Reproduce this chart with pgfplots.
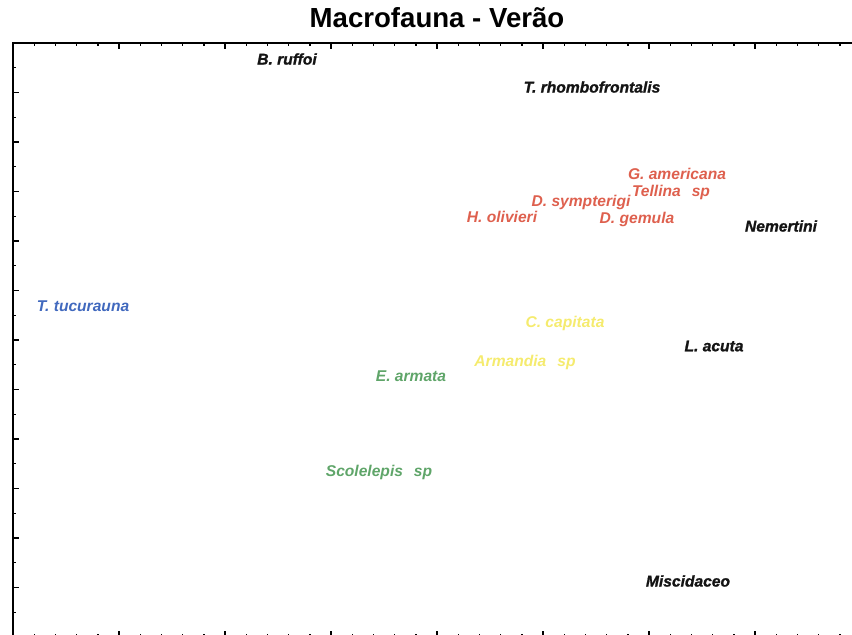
\documentclass[border=0pt]{standalone}
\usepackage{pgfplots}
\pgfplotsset{compat=1.18}
\usepackage{fontspec}
\setmainfont{Liberation Sans}
\definecolor{cred}{RGB}{222,96,78}
\definecolor{cgreen}{RGB}{95,165,105}
\definecolor{cyellow}{RGB}{245,235,110}
\definecolor{cblue}{RGB}{65,105,190}
\definecolor{cblack}{RGB}{20,20,20}
\begin{document}
\begin{tikzpicture}
\begin{axis}[
  scale only axis, width=424pt, height=297pt,
  xmin=13, xmax=861, ymin=43, ymax=637, y dir=reverse,
  xtick={13,119,...,861}, minor x tick num=4,
  ytick={43,92.5,...,637}, minor y tick num=1,
  xticklabels={}, yticklabels={},
  tick align=inside, major tick length=3pt, minor tick length=1.6pt,
  axis line style={line width=1pt}, every tick/.style={line width=0.7pt, black},
  clip=false,
  title={\bfseries Macrofauna - Verão},
  title style={font=\fontsize{13.8}{15}\selectfont, anchor=base, at={(axis description cs:0.5,1)}, yshift=1.5pt},
  nodes near coords, point meta=explicit symbolic,
  every node near coord/.style={anchor=center, inner sep=0pt, font=\fontsize{7.8}{9}\selectfont\bfseries\itshape},
]
\addplot[only marks, mark=none, every node near coord/.append style={text=cblack, font=\fontsize{7.8}{9}\selectfont\bfseries\itshape\addfontfeature{FakeBold=1.2}}] table[col sep=comma, meta=label] {
x,y,label
287,59,B. ruffoi
592,87,T. rhombofrontalis
781,226,Nemertini
714,346,L. acuta
688,581,Miscidaceo
};
\addplot[only marks, mark=none, every node near coord/.append style={text=cred}] table[col sep=comma, meta=label] {
x,y,label
677,174,G. americana
671,192,Tellina\hspace{0.7em}sp
581,202,D. sympterigi
502,217,H. olivieri
637,219,D. gemula
};
\addplot[only marks, mark=none, every node near coord/.append style={text=cblue}] table[col sep=comma, meta=label] {
x,y,label
83,306,T. tucurauna
};
\addplot[only marks, mark=none, every node near coord/.append style={text=cyellow}] table[col sep=comma, meta=label] {
x,y,label
565,323,C. capitata
525,362,Armandia\hspace{0.7em}sp
};
\addplot[only marks, mark=none, every node near coord/.append style={text=cgreen}] table[col sep=comma, meta=label] {
x,y,label
411,376,E. armata
379,472,Scolelepis\hspace{0.7em}sp
};
\coordinate (TL) at (axis cs:0,0);
\coordinate (BR) at (axis cs:852,635);
\end{axis}
\pgfresetboundingbox
\useasboundingbox (TL) rectangle (BR);
\end{tikzpicture}
\end{document}
